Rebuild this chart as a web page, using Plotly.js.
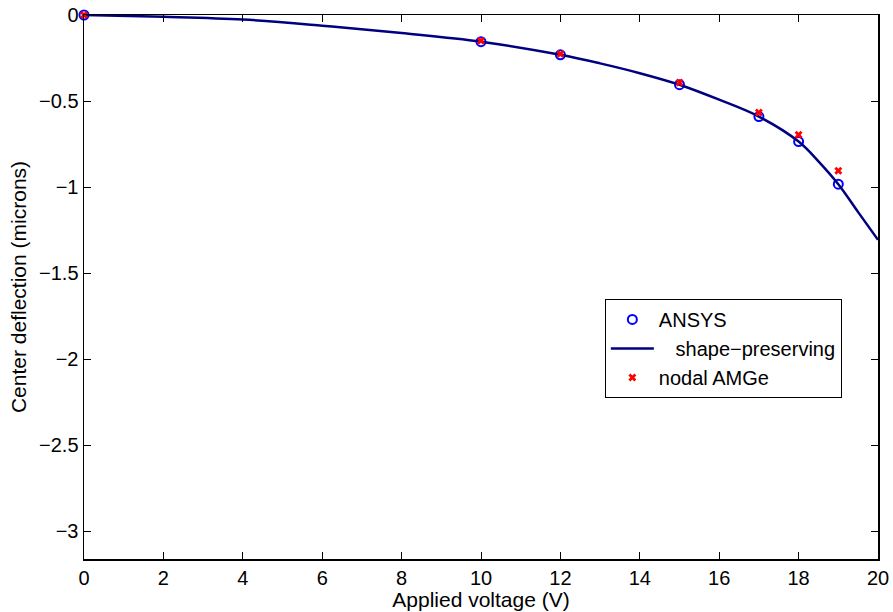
<!DOCTYPE html>
<html>
<head>
<meta charset="utf-8">
<script src="https://cdn.plot.ly/plotly-3.0.1.min.js"></script>
<style>
  html, body { margin: 0; padding: 0; background: #fff; }
  #chart { width: 893px; height: 612px; }
</style>
</head>
<body>
<div id="chart"></div>
<script>
// Data
const ansysV = [0, 10, 12, 15, 17, 18, 19];
const ansysDefl = [0, -0.155, -0.231, -0.405, -0.590, -0.735, -0.983];

const amgeV = [0, 10, 12, 15, 17, 18, 19];
const amgeDefl = [0, -0.150, -0.226, -0.392, -0.566, -0.696, -0.905];

const curveV = [0, 2, 4, 6, 8, 10, 12, 13, 14, 15, 16, 17, 18, 18.5, 19, 19.5, 20];
const curveDefl = [0, -0.010, -0.026, -0.062, -0.105, -0.155, -0.231, -0.281, -0.338, -0.405, -0.492, -0.590, -0.735, -0.850, -0.983, -1.145, -1.306];

const xTickVals = [0, 2, 4, 6, 8, 10, 12, 14, 16, 18, 20];
const yTickVals = [0, -0.5, -1, -1.5, -2, -2.5, -3];
const yTickText = ['0', '\u22120.5', '\u22121', '\u22121.5', '\u22122', '\u22122.5', '\u22123'];

const seriesNames = ['ANSYS', '\u00a0\u00a0\u00a0shape\u2212preserving', 'nodal AMGe'];

const FONT = '"Liberation Sans", Arial, Helvetica, sans-serif';

const traces = [
  {
    x: ansysV, y: ansysDefl, name: seriesNames[0],
    type: 'scatter', mode: 'markers', cliponaxis: false,
    marker: { symbol: 'circle-open', size: 9, color: '#0000ff', line: { width: 2, color: '#0000ff' } }
  },
  {
    x: curveV, y: curveDefl, name: seriesNames[1],
    type: 'scatter', mode: 'lines',
    line: { color: '#000080', width: 2.5, shape: 'spline', smoothing: 1 }
  },
  {
    x: amgeV, y: amgeDefl, name: seriesNames[2],
    type: 'scatter', mode: 'markers', cliponaxis: false,
    marker: { symbol: 'x', size: 7, color: '#ff0000', line: { width: 0 } }
  }
];

const axisCommon = {
  showgrid: false, zeroline: false,
  showline: true, linecolor: '#000', linewidth: 1.5,
  mirror: 'allticks', ticks: 'inside', ticklen: 7, tickwidth: 1, tickcolor: '#000',
  tickfont: { family: FONT, size: 20, color: '#000' }
};

const layout = {
  width: 893, height: 612,
  margin: { l: 84, r: 15, t: 15, b: 53 },
  paper_bgcolor: '#fff', plot_bgcolor: '#fff',
  font: { family: FONT, color: '#000' },
  showlegend: true,
  xaxis: Object.assign({}, axisCommon, {
    range: [0, 20], tickmode: 'array', tickvals: xTickVals,
    title: { text: 'Applied voltage (V)', font: { family: FONT, size: 21, color: '#000' }, standoff: 0 }
  }),
  yaxis: Object.assign({}, axisCommon, {
    range: [-3.16, 0], tickmode: 'array', tickvals: yTickVals, ticktext: yTickText,
    title: { text: 'Center deflection (microns)', font: { family: FONT, size: 21, color: '#000' }, standoff: 6 }
  }),
  legend: {
    x: 0.656, y: 0.478, xanchor: 'left', yanchor: 'top',
    bgcolor: '#fff', bordercolor: '#000', borderwidth: 1,
    font: { family: FONT, size: 20, color: '#000' },
    itemwidth: 43, tracegroupgap: 0
  }
};

Plotly.newPlot('chart', traces, layout, { displayModeBar: false, staticPlot: true });
</script>
</body>
</html>
